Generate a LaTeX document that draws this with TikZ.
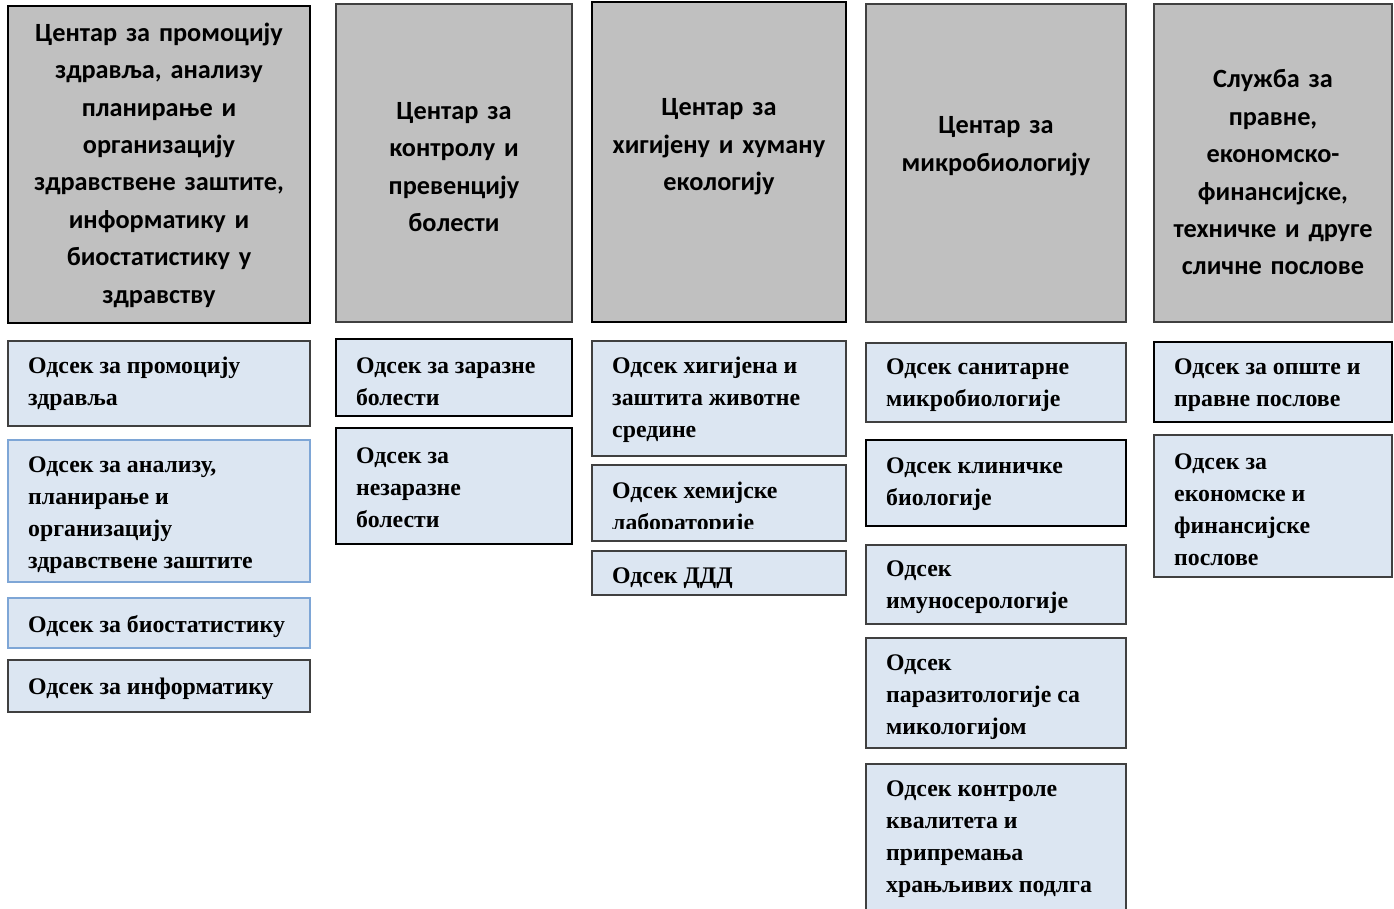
\documentclass[tikz,border=0pt]{standalone}
\usepackage{fontspec}
\setmainfont{Liberation Serif}
\newfontfamily\hdrfont{Carlito}
\definecolor{hgray}{HTML}{C0C0C0}
\definecolor{sblue}{HTML}{DCE6F2}
\definecolor{darkline}{HTML}{404040}
\definecolor{blueline}{HTML}{7EA6D6}
\begin{document}
\begin{tikzpicture}[x=1pt,y=-1pt,
  box/.style={inner sep=0pt, outer sep=0pt, anchor=north west},
  hbox/.style={box, fill=hgray},
  sbox/.style={box, fill=sblue},
  blk/.style={draw=black, line width=2pt},
  dgr/.style={draw=darkline, line width=1.6pt},
  blu/.style={draw=blueline, line width=1.2pt},
  htext/.style={inner sep=0pt, align=center, text width=#1, font=\hdrfont\bfseries\fontsize{26.3}{37.4}\selectfont},
  stext/.style={inner sep=0pt, anchor=west, align=left, yshift=-2.5pt, font=\bfseries\fontsize{23.8}{32}\selectfont}
]
\useasboundingbox (0,0) rectangle (1394,909);
\fill[white] (0,0) rectangle (1394,909);

% headers
\node[hbox, blk, minimum width=302pt, minimum height=317pt] (h1) at (8,6) {};
\node[htext=300pt] (h1t) at (159,165) {Центар за промоцију\\здравља, анализу\\планирање и\\организацију\\здравствене заштите,\\информатику и\\биостатистику у\\здравству};

\node[hbox, dgr, minimum width=236pt, minimum height=318pt] (h2) at (336,4) {};
\node[htext=230pt] (h2t) at (454,167) {Центар за\\контролу и\\превенцију\\болести};

\node[hbox, blk, minimum width=254pt, minimum height=320pt] (h3) at (592,2) {};
\node[htext=250pt] (h3t) at (719,147) {Центар за\\хигијену и хуману\\екологију};

\node[hbox, dgr, minimum width=260pt, minimum height=318pt] (h4) at (866,4) {};
\node[htext=255pt] (h4t) at (996,146) {Центар за\\микробиологију};

\node[hbox, dgr, minimum width=238pt, minimum height=318pt] (h5) at (1154,4) {};
\node[htext=235pt] (h5t) at (1273,172.5) {Служба за\\правне,\\економско-\\финансијске,\\техничке и друге\\сличне послове};

% column 1
\node[sbox, dgr, minimum width=302pt, minimum height=85pt] (c1a) at (8,341) {};
\node[stext] (c1at) at (28,381.5) {Одсек за промоцију\\здравља};
\node[sbox, blu, minimum width=302pt, minimum height=142pt] (c1b) at (8,440) {};
\node[stext] (c1bt) at (28,513) {Одсек за анализу,\\планирање и\\организацију\\здравствене заштите};
\node[sbox, blu, minimum width=302pt, minimum height=50pt] (c1c) at (8,598) {};
\node[stext] (c1ct) at (28,624) {Одсек за биостатистику};
\node[sbox, dgr, minimum width=302pt, minimum height=52pt] (c1d) at (8,660) {};
\node[stext] (c1dt) at (28,686) {Одсек за информатику};

% column 2
\node[sbox, blk, minimum width=236pt, minimum height=77pt] (c2a) at (336,339) {};
\node[stext] (c2at) at (356,379) {Одсек за заразне\\болести};
\node[sbox, blk, minimum width=236pt, minimum height=116pt] (c2b) at (336,428) {};
\node[stext] (c2bt) at (356,485) {Одсек за\\незаразне\\болести};

% column 3
\node[sbox, dgr, minimum width=254pt, minimum height=115pt] (c3a) at (592,341) {};
\node[stext] (c3at) at (612,397) {Одсек хигијена и\\заштита животне\\средине};
\node[sbox, dgr, minimum width=254pt, minimum height=76pt] (c3b) at (592,465) {};
\begin{scope}
\clip (c3b.north west) rectangle ([yshift=13pt]c3b.south east);
\node[stext] (c3bt) at (612,506) {Одсек хемијске\\лабораторије};
\end{scope}
\node[sbox, dgr, minimum width=254pt, minimum height=44pt] (c3c) at (592,551) {};
\node[stext] (c3ct) at (612,576) {Одсек ДДД};

% column 4
\node[sbox, dgr, minimum width=260pt, minimum height=79pt] (c4a) at (866,343) {};
\node[stext] (c4at) at (886,383) {Одсек санитарне\\микробиологије};
\node[sbox, blk, minimum width=260pt, minimum height=86pt] (c4b) at (866,440) {};
\node[stext] (c4bt) at (886,481.5) {Одсек клиничке\\биологије};
\node[sbox, dgr, minimum width=260pt, minimum height=79pt] (c4c) at (866,545) {};
\node[stext] (c4ct) at (886,585) {Одсек\\имуносерологије};
\node[sbox, dgr, minimum width=260pt, minimum height=110pt] (c4d) at (866,638) {};
\node[stext] (c4dt) at (886,695) {Одсек\\паразитологије са\\микологијом};
\node[sbox, dgr, minimum width=260pt, minimum height=160pt] (c4e) at (866,764) {};
\node[stext] (c4et) at (886,836.5) {Одсек контроле\\квалитета и\\припремања\\храњљивих подлга};

% column 5
\node[sbox, blk, minimum width=238pt, minimum height=80pt] (c5a) at (1154,342) {};
\node[stext] (c5at) at (1174,383) {Одсек за опште и\\правне послове};
\node[sbox, dgr, minimum width=238pt, minimum height=142pt] (c5b) at (1154,435) {};
\node[stext] (c5bt) at (1174,507.5) {Одсек за\\економске и\\финансијске\\послове};
\end{tikzpicture}
\end{document}
